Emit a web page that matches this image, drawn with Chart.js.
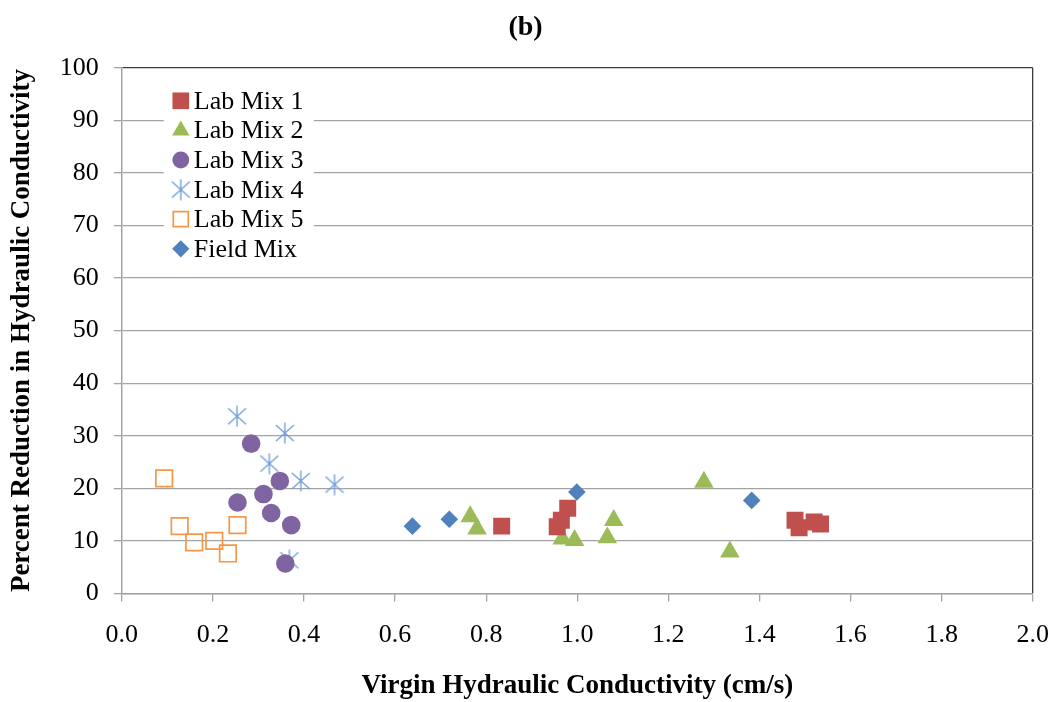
<!DOCTYPE html>
<html>
<head>
<meta charset="utf-8">
<script src="https://cdn.jsdelivr.net/npm/chart.js@4.4.1/dist/chart.umd.min.js"></script>
<style>
  html, body { margin: 0; padding: 0; background: #ffffff; }
  #wrap { position: relative; width: 1060px; height: 702px; }
</style>
</head>
<body>
<div id="wrap"><canvas id="c" width="1060" height="702"></canvas></div>
<script>
// ---------- data ----------
const seriesNames = ['Lab Mix 1', 'Lab Mix 2', 'Lab Mix 3', 'Lab Mix 4', 'Lab Mix 5', 'Field Mix'];

const labMix1X = [0.834, 0.956, 0.965, 0.979, 1.478, 1.487, 1.520, 1.534];
const labMix1Y = [12.8, 12.7, 13.9, 16.2, 13.9, 12.5, 13.6, 13.2];

const labMix2X = [0.765, 0.780, 0.967, 0.994, 1.066, 1.080, 1.278, 1.335];
const labMix2Y = [14.6, 12.3, 10.4, 10.1, 10.6, 13.9, 21.2, 7.9];

const labMix3X = [0.284, 0.347, 0.311, 0.254, 0.328, 0.372, 0.359];
const labMix3Y = [28.5, 21.4, 18.9, 17.3, 15.3, 13.0, 5.7];

const labMix4X = [0.253, 0.358, 0.324, 0.393, 0.467, 0.368];
const labMix4Y = [33.7, 30.5, 24.7, 21.4, 20.7, 6.3];

const labMix5X = [0.093, 0.127, 0.159, 0.203, 0.233, 0.254];
const labMix5Y = [21.9, 12.8, 9.7, 10.0, 7.6, 13.0];

const fieldMixX = [0.638, 0.719, 0.999, 1.383];
const fieldMixY = [12.8, 14.1, 19.3, 17.7];

const xTickValues = [0, 0.2, 0.4, 0.6, 0.8, 1.0, 1.2, 1.4, 1.6, 1.8, 2.0];
const yTickValues = [0, 10, 20, 30, 40, 50, 60, 70, 80, 90, 100];

const chartTitle = '(b)';
const xTitle = 'Virgin Hydraulic Conductivity (cm/s)';
const yTitle = 'Percent Reduction in Hydraulic Conductivity';

// ---------- styles ----------
const FONT = "'Liberation Serif', 'Times New Roman', serif";
const GRID = '#a3a3a3';
const FRAME = '#3c3c3c';

function zip(xs, ys) { return xs.map((x, i) => ({ x: x, y: ys[i] })); }

// asterisk marker (vertical line + X), drawn once on a small canvas
function makeStar(color) {
  const c = document.createElement('canvas');
  c.width = 20; c.height = 22;
  const g = c.getContext('2d');
  g.strokeStyle = color; g.lineWidth = 1.3; g.lineCap = 'butt';
  g.beginPath();
  g.moveTo(10, 0.5); g.lineTo(10, 21.5);
  g.moveTo(1, 3); g.lineTo(19, 19);
  g.moveTo(1, 19); g.lineTo(19, 3);
  g.stroke();
  return c;
}
const starImg = makeStar('#6e9bd8');

const styles = [
  { pointStyle: 'rect', radius: 12, bg: '#c0504d', border: '#c0504d', bw: 0 },
  { pointStyle: 'triangle', radius: 11.3, bg: '#9bbb59', border: '#9bbb59', bw: 0 },
  { pointStyle: 'circle', radius: 9.3, bg: '#8064a2', border: '#8064a2', bw: 0 },
  { pointStyle: starImg, radius: 10, bg: '#6e9bd8', border: '#6e9bd8', bw: 0 },
  { pointStyle: 'rect', radius: 11.7, bg: 'rgba(0,0,0,0)', border: '#f79646', bw: 1.7 },
  { pointStyle: 'rectRot', radius: 8.8, bg: '#4f81bd', border: '#4f81bd', bw: 0 }
];
const legendRadius = [11.8, 10, 8.4, 10, 10.6, 8.6];

const dataPairs = [
  zip(labMix1X, labMix1Y), zip(labMix2X, labMix2Y), zip(labMix3X, labMix3Y),
  zip(labMix4X, labMix4Y), zip(labMix5X, labMix5Y), zip(fieldMixX, fieldMixY)
];

const datasets = seriesNames.map((name, i) => ({
  label: name,
  data: dataPairs[i],
  pointStyle: styles[i].pointStyle,
  pointRadius: styles[i].radius,
  pointHoverRadius: styles[i].radius,
  backgroundColor: styles[i].bg,
  borderColor: styles[i].border,
  borderWidth: styles[i].bw,
  showLine: false
}));

// legend drawn inside the plot, on a white box
const insideLegend = {
  id: 'insideLegend',
  afterDatasetsDraw(chart) {
    const ctx = chart.ctx;
    const ca = chart.chartArea;
    const boxL = ca.left + 42, boxT = ca.top + 14, boxW = 150, boxH = 186;
    ctx.save();
    ctx.fillStyle = '#ffffff';
    ctx.fillRect(boxL, boxT, boxW, boxH);
    const markerX = boxL + 17;
    const textX = boxL + 30;
    const rowTop = boxT + 19;
    const rowH = 29.6;
    ctx.font = '26px ' + FONT;
    ctx.textBaseline = 'alphabetic';
    ctx.textAlign = 'left';
    seriesNames.forEach((name, i) => {
      const cy = rowTop + i * rowH;
      const s = styles[i];
      ctx.save();
      ctx.fillStyle = s.bg;
      ctx.strokeStyle = s.border;
      ctx.lineWidth = s.bw;
      Chart.helpers.drawPoint(ctx, { pointStyle: s.pointStyle, radius: legendRadius[i], rotation: 0, borderWidth: s.bw }, markerX, cy);
      ctx.restore();
      ctx.fillStyle = '#000000';
      ctx.fillText(name, textX, cy + 8);
    });
    ctx.restore();
  }
};

new Chart(document.getElementById('c'), {
  type: 'scatter',
  data: { datasets: datasets },
  plugins: [insideLegend],
  options: {
    responsive: false,
    animation: false,
    devicePixelRatio: 1,
    layout: { padding: { left: 0, right: 9, top: 0, bottom: 0 } },
    plugins: {
      legend: { display: false },
      tooltip: { enabled: false },
      title: {
        display: true,
        text: chartTitle,
        color: '#000000',
        font: { family: FONT, size: 28, weight: 'bold' },
        padding: { top: 11.2, bottom: 23 }
      }
    },
    scales: {
      x: {
        type: 'linear',
        min: 0, max: 2,
        afterBuildTicks(scale) { scale.ticks = xTickValues.map(v => ({ value: v })); },
        ticks: {
          color: '#000000',
          font: { family: FONT, size: 26, lineHeight: 1.738 },
          padding: 11,
          maxRotation: 0,
          callback: v => Number(v).toFixed(1)
        },
        grid: {
          drawOnChartArea: true,
          color: c => (c.tick && Math.abs(c.tick.value - 2) < 1e-9) ? FRAME : 'rgba(0,0,0,0)',
          tickColor: GRID,
          tickLength: 8,
          lineWidth: 1.3
        },
        border: { display: true, color: GRID, width: 1.5 },
        title: {
          display: true,
          text: xTitle,
          color: '#000000',
          font: { family: FONT, size: 27, weight: 'bold' },
          padding: { top: 1, bottom: 0 }
        }
      },
      y: {
        type: 'linear',
        min: 0, max: 100,
        afterBuildTicks(scale) { scale.ticks = yTickValues.map(v => ({ value: v })); },
        ticks: {
          color: '#000000',
          font: { family: FONT, size: 26 },
          padding: 15
        },
        grid: {
          color: c => (c.tick && c.tick.value === 100) ? FRAME : GRID,
          tickColor: GRID,
          tickLength: 8,
          lineWidth: 1.3
        },
        border: { display: true, color: GRID, width: 1.5 },
        title: {
          display: true,
          text: yTitle,
          color: '#000000',
          font: { family: FONT, size: 27, weight: 'bold' },
          padding: { top: 5.8, bottom: 6.6 }
        }
      }
    }
  }
});
</script>
</body>
</html>
